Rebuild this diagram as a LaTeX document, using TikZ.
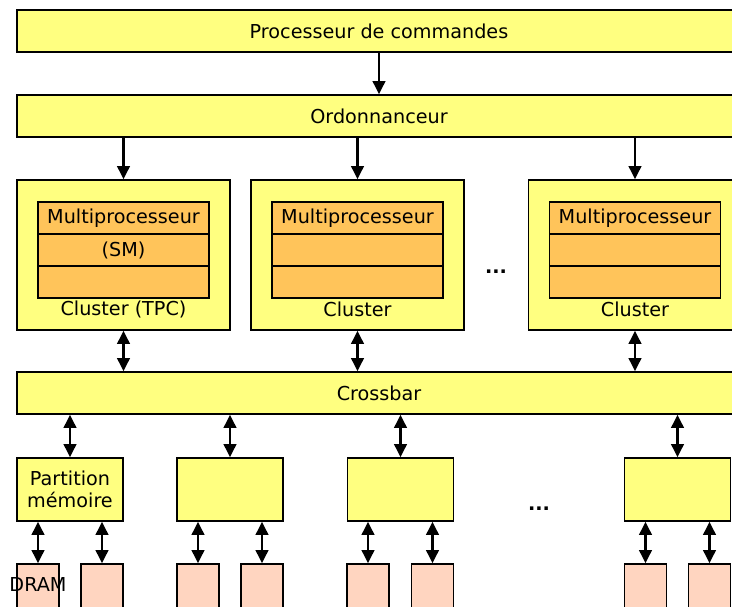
\documentclass[tikz,border=0pt]{standalone}
\usepackage{fontspec}
\setmainfont{DejaVu Sans}
\usetikzlibrary{arrows.meta}
\definecolor{jaune}{RGB}{255,255,128}
\definecolor{orange}{RGB}{255,196,90}
\definecolor{rose}{RGB}{255,213,192}

\begin{document}
\begin{tikzpicture}[x=1pt,y=-1pt,
	>={Triangle[length=13pt,width=12.5pt]},
	font=\fontsize{19.2}{22}\selectfont,
	boite/.style={draw=black, line width=1.7pt, fill=jaune, inner sep=0pt},
	smbox/.style={draw=black, line width=1.7pt, fill=orange, inner sep=0pt, minimum width=171pt, minimum height=32pt},
	dram/.style={draw=black, line width=1.7pt, fill=rose, inner sep=0pt, minimum width=42pt, minimum height=48pt},
	fleche/.style={line width=2.4pt}]
	\clip (0,0) rectangle (732,607);
	\useasboundingbox (0,0) rectangle (732,607);
	% barres horizontales
	\node[boite, minimum width=724pt, minimum height=42pt] (cmd) at (379,31) {Processeur de commandes};
	\node[boite, minimum width=724pt, minimum height=42pt] (ord) at (379,116) {Ordonnanceur};
	\node[boite, minimum width=724pt, minimum height=42pt] (xbar) at (379,393) {Crossbar};
	\draw[fleche,->] (cmd) -- (ord);
	% clusters
	\foreach \n/\x/\l/\s in {1/123.5/{Cluster (TPC)}/{(SM)}, 2/357.5/Cluster/{}, 3/635/Cluster/{}} {
		\node[boite, minimum width=213pt, minimum height=150pt] (tpc\n) at (\x,255) {};
		\node[smbox] (sm\n a) at (\x,218) {Multiprocesseur};
		\node[smbox] (sm\n b) at (\x,250) {\s};
		\node[smbox] (sm\n c) at (\x,282) {};
		\node (lab\n) at (\x,309) {\l};
		\draw[fleche,->] (ord.south -| tpc\n) -- (tpc\n.north);
		\draw[fleche,<->] (tpc\n.south) -- (xbar.north -| tpc\n);
	}
	\node (dots1) at (496,272) {\textbf{...}};
	% partitions memoire
	\node[boite, minimum width=106pt, minimum height=63pt, align=center] (mp1) at (70,489.5) {Partition\\mémoire};
	\node[boite, minimum width=106pt, minimum height=63pt] (mp2) at (230,489.5) {};
	\node[boite, minimum width=106pt, minimum height=63pt] (mp3) at (400.5,489.5) {};
	\node[boite, minimum width=106pt, minimum height=63pt] (mp4) at (677.5,489.5) {};
	\node (dots2) at (539,509) {\textbf{...}};
	\foreach \n in {1,2,3,4}
		\draw[fleche,<->] (xbar.south -| mp\n) -- (mp\n.north);
	% DRAM
	\node[dram, label={[yshift=3pt]center:DRAM}] (d1a) at (38,588) {};
	\node[dram] (d1b) at (102,588) {};
	\node[dram] (d2a) at (198,588) {};
	\node[dram] (d2b) at (262,588) {};
	\node[dram] (d3a) at (368,588) {};
	\node[dram] (d3b) at (432.5,588) {};
	\node[dram] (d4a) at (645.5,588) {};
	\node[dram] (d4b) at (709.5,588) {};
	\foreach \n in {1,2,3,4} {
		\draw[fleche,<->] (mp\n.south -| d\n a) -- (d\n a.north);
		\draw[fleche,<->] (mp\n.south -| d\n b) -- (d\n b.north);
	}
\end{tikzpicture}
\end{document}
